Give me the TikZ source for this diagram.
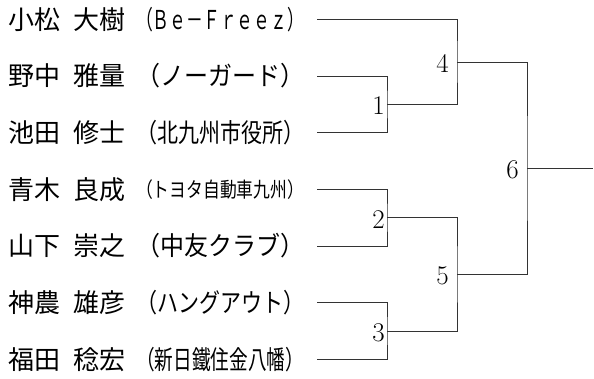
\documentclass[tikz,border=0pt]{standalone}
\usepackage{fontspec}
\usepackage{graphicx}
\newfontfamily\jpfont{Noto Sans CJK JP}
% team names are squeezed into a fixed width
\newcommand\team[1]{\resizebox{6.46em}{\height}{（#1）}}
\newcommand\teamsmall[1]{\raisebox{0.06em}{\resizebox{6.46em}{0.8\height}{（#1）}}}

\begin{document}
\begin{tikzpicture}[
  x=1bp,y=-1bp,
  every node/.style={inner sep=0pt},
  player/.style={anchor=west,text width=309bp,align=left,
    font=\jpfont\fontsize{26bp}{30bp}\selectfont},
  score/.style={anchor=east,font=\fontsize{27bp}{30bp}\selectfont,yshift=-1.5bp},
  bracket/.style={line width=0.8bp,draw=black!80},
  ]
  \useasboundingbox (0,0) rectangle (594,378);
  \node[player](p1) at (8,19.5) {小松\hspace{0.5em}大樹\hspace{0.42em}\team{Ｂｅ－Ｆｒｅｅｚ}};
  \node[player](p2) at (8,76) {野中\hspace{0.5em}雅量\hspace{0.42em}\team{ノーガード}};
  \node[player](p3) at (8,132.7) {池田\hspace{0.5em}修士\hspace{0.42em}\team{北九州市役所}};
  \node[player](p4) at (8,189.3) {青木\hspace{0.5em}良成\hspace{0.42em}\teamsmall{トヨタ自動車九州}};
  \node[player](p5) at (8,246) {山下\hspace{0.5em}崇之\hspace{0.42em}\team{中友クラブ}};
  \node[player](p6) at (8,302.7) {神農\hspace{0.5em}雄彦\hspace{0.42em}\team{ハングアウト}};
  \node[player](p7) at (8,359.3) {福田\hspace{0.5em}稔宏\hspace{0.42em}\team{新日鐵住金八幡}};

  \coordinate (m1) at (387,104.3);
  \coordinate (m2) at (387,217.7);
  \coordinate (m3) at (387,331);
  \coordinate (m4) at (457,61.9);
  \coordinate (m5) at (457,274.3);
  \coordinate (m6) at (527,168.1);
  \coordinate (win) at (593,168.1);

  \node[score,xshift=-2bp](l1) at (m1) {1};
  \node[score,xshift=-2bp](l2) at (m2) {2};
  \node[score,xshift=-2bp](l3) at (m3) {3};
  \node[score,xshift=-8bp](l4) at (m4) {4};
  \node[score,xshift=-8bp](l5) at (m5) {5};
  \node[score,xshift=-8bp](l6) at (m6) {6};

  \draw[bracket] (p2.east) -| (m1) |- (p3.east);
  \draw[bracket] (p4.east) -| (m2) |- (p5.east);
  \draw[bracket] (p6.east) -| (m3) |- (p7.east);
  \draw[bracket] (p1.east) -| (m4) |- (m1);
  \draw[bracket] (m2) -| (m5) |- (m3);
  \draw[bracket] (m4) -| (m6) |- (m5);
  \draw[bracket] (m6) -- (win);
\end{tikzpicture}
\end{document}
